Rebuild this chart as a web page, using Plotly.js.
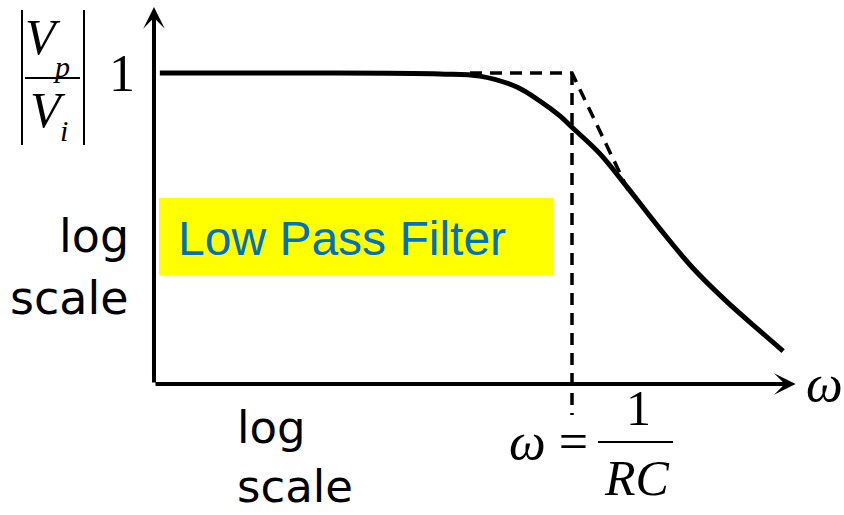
<!DOCTYPE html>
<html>
<head>
<meta charset="utf-8">
<script src="https://cdn.plot.ly/plotly-3.0.1.min.js"></script>
<style>html,body{margin:0;padding:0;background:#fff;}#chart{width:844px;height:515px;}</style>
</head>
<body>
<div id="chart"></div>
<script>
// Normalised frequency (log scale, cutoff = 1) and normalised magnitude (log scale, passband = 1)
var responseX = [0.014, 0.349, 0.684, 0.780, 0.868, 0.923, 0.971, 1.002, 1.067, 1.132, 1.211, 1.289, 1.371, 1.450, 1.505];
var responseY = [1.000, 1.000, 0.997, 0.990, 0.955, 0.910, 0.862, 0.823, 0.740, 0.633, 0.498, 0.373, 0.264, 0.170, 0.106];
var asymptoteX = [0.756, 1.000, 1.134];
var asymptoteY = [1.000, 1.000, 0.624];
var cutoffX = [1.000, 1.000];
var cutoffY = [1.000, -0.100];

var W = 844, H = 515;
function px(v){ return v / W; }
function py(v){ return 1 - v / H; }

var serif = 'Liberation Serif, Times New Roman, serif';
var sans = 'Liberation Sans, Arial, sans-serif';
var hand = 'DejaVu Sans, sans-serif';

var traces = [
  {x: cutoffX, y: cutoffY, mode: 'lines', line: {color: '#000', width: 3.5, dash: '12px,8px'}, hoverinfo: 'skip'},
  {x: asymptoteX, y: asymptoteY, mode: 'lines', line: {color: '#000', width: 3.5, dash: '12px,8px'}, hoverinfo: 'skip'},
  {x: responseX, y: responseY, mode: 'lines', line: {color: '#000', width: 5, shape: 'spline', smoothing: 1.0}, hoverinfo: 'skip'}
];

function txt(text, x, y, size, family, opts){
  var a = {text: text, x: px(x), y: py(y), xref: 'paper', yref: 'paper', showarrow: false,
    font: {size: size, family: family, color: '#000'}, xanchor: 'center', yanchor: 'middle'};
  for (var k in (opts||{})) a[k] = opts[k];
  return a;
}

var annotations = [
  // axes arrows
  {x: 0, y: 1.212, ax: 0, ay: 0, xref: 'x', yref: 'y', axref: 'x', ayref: 'y', text: '', showarrow: true,
   arrowhead: 3, arrowsize: 0.9, arrowwidth: 4, arrowcolor: '#000'},
  {x: 1.535, y: 0, ax: 0, ay: 0, xref: 'x', yref: 'y', axref: 'x', ayref: 'y', text: '', showarrow: true,
   arrowhead: 3, arrowsize: 0.9, arrowwidth: 4, arrowcolor: '#000'},
  // |Vp / Vi|
  txt('<i>V</i>', 43, 37, 50, serif),
  txt('<i>p</i>', 62, 66, 30, serif),
  txt('<i>V</i>', 48, 110, 50, serif),
  txt('<i>i</i>', 64, 130, 30, serif),
  txt('1', 122, 74, 52, serif),
  // y-axis scale note
  txt('log', 131, 236, 46, hand, {xanchor: 'right'}),
  txt('scale', 131, 298, 46, hand, {xanchor: 'right'}),
  // x-axis scale note
  txt('log', 235, 427, 45, hand, {xanchor: 'left'}),
  txt('scale', 235, 486, 45, hand, {xanchor: 'left'}),
  // label
  txt('Low Pass Filter', 176, 238, 48, sans, {xanchor: 'left', font: {size: 48, family: sans, color: '#0070C0'}}),
  // omega
  txt('<i>ω</i>', 824, 383, 52, serif),
  txt('<i>ω</i> =', 507, 441, 52, serif, {xanchor: 'left'}),
  txt('1', 638, 408, 50, serif),
  txt('<i>RC</i>', 637, 478, 50, serif)
];

var shapes = [
  {type: 'rect', xref: 'paper', yref: 'paper', x0: px(159), x1: px(553), y0: py(198), y1: py(275),
   fillcolor: '#FFFF00', line: {width: 0}, layer: 'below'},
  {type: 'line', xref: 'paper', yref: 'paper', x0: px(22), x1: px(22), y0: py(10), y1: py(145), line: {color: '#000', width: 2}},
  {type: 'line', xref: 'paper', yref: 'paper', x0: px(84), x1: px(84), y0: py(10), y1: py(145), line: {color: '#000', width: 2}},
  {type: 'line', xref: 'paper', yref: 'paper', x0: px(25), x1: px(80), y0: py(78), y1: py(78), line: {color: '#000', width: 2}},
  {type: 'line', xref: 'paper', yref: 'paper', x0: px(598), x1: px(673), y0: py(442), y1: py(442), line: {color: '#000', width: 2}}
];

var ax = {showgrid: false, zeroline: false, showticklabels: false, showline: false, ticks: '', fixedrange: true};
var layout = {
  width: W, height: H,
  margin: {l: 0, r: 0, t: 0, b: 0},
  paper_bgcolor: '#fff', plot_bgcolor: 'rgba(0,0,0,0)',
  showlegend: false,
  xaxis: Object.assign({range: [-0.3684, 1.6507]}, ax),
  yaxis: Object.assign({range: [-0.4212, 1.2347]}, ax),
  annotations: annotations,
  shapes: shapes
};

Plotly.newPlot('chart', traces, layout, {displayModeBar: false, staticPlot: true});
</script>
</body>
</html>
